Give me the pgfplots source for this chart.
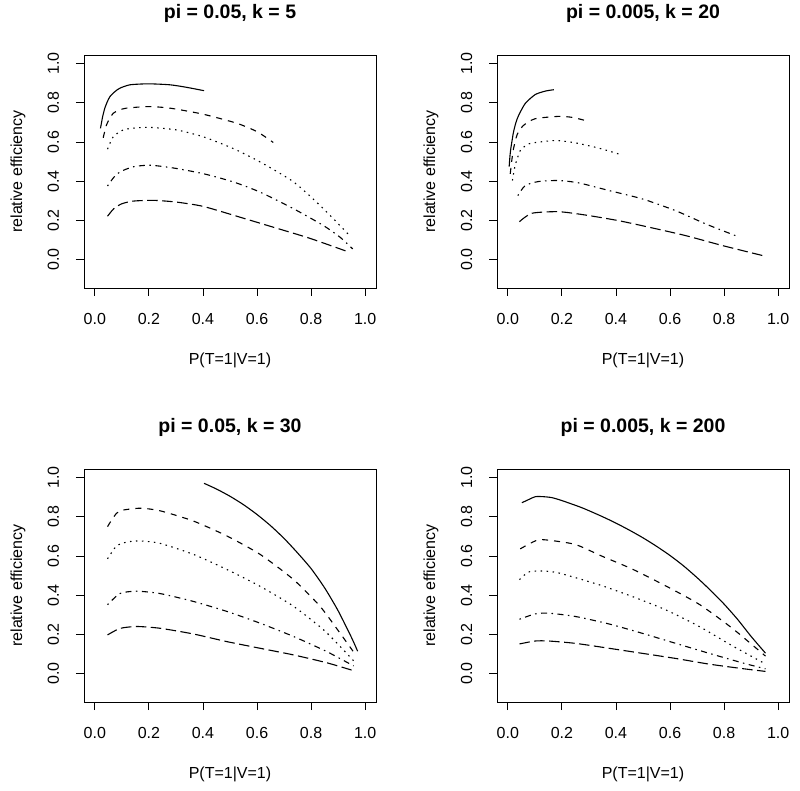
\documentclass[border=0pt]{standalone}
\usepackage{fontspec}
\setmainfont{Liberation Sans}
\usepackage{pgfplots}
\pgfplotsset{compat=1.18}
\pgfplotsset{
  rpanel/.style={
    anchor=south west, scale only axis, width=292pt, height=233pt,
    xmin=-0.04, xmax=1.04, ymin=-0.144, ymax=1.044,
    xtick={0,0.2,0.4,0.6,0.8,1.0}, ytick={0,0.2,0.4,0.6,0.8,1.0},
    /pgf/number format/.cd, fixed, fixed zerofill, precision=1, assume math mode=true, /pgfplots/.cd,
    tick align=outside, xtick pos=left, ytick pos=left,
    major tick length=8pt,
    tick style={black, line width=0.8pt},
    axis line style={black, line width=0.9pt},
    tick label style={font=\fontsize{16}{19}\selectfont},
    xticklabel style={anchor=north, inner sep=0pt},
    yticklabel style={rotate=90, anchor=base, inner sep=0pt},
    xticklabel shift=17pt, yticklabel shift=17pt,
    xlabel={P(T=1|V=1)}, ylabel={relative efficiency},
    every axis x label/.style={at={(axis description cs:0.5,-0.309)}, anchor=center, font=\fontsize{16}{19}\selectfont},
    every axis y label/.style={at={(axis description cs:-0.226,0.5)}, rotate=90, anchor=center, font=\fontsize{16}{19}\selectfont},
    title style={at={(axis description cs:0.5,1.133)}, anchor=base, font=\fontsize{19.5}{23}\selectfont\bfseries},
    every axis plot/.append style={black, line width=1.1pt, smooth, tension=0.4},
  },
  lsolid/.style={solid},
  ldash/.style={dash pattern=on 6pt off 6pt},
  ldot/.style={dash pattern=on 1.5pt off 4.5pt},
  ldotdash/.style={dash pattern=on 1.5pt off 4.5pt on 6pt off 4.5pt},
  llong/.style={dash pattern=on 10.5pt off 4.5pt},
}
\begin{document}
\fontsize{16}{19}\selectfont
\begin{tikzpicture}
\useasboundingbox (0pt,0pt) rectangle (800pt,790pt);
% Panel 1
\begin{axis}[rpanel, at={(84pt,502pt)}, title={pi = 0.05, k = 5}]
\addplot[lsolid] coordinates {(0.021,0.67)(0.029,0.73)(0.037,0.773)(0.046,0.805)(0.056,0.832)(0.075,0.858)(0.093,0.875)(0.13,0.892)(0.198,0.897)(0.278,0.892)(0.34,0.879)(0.404,0.862)};
\addplot[ldash] coordinates {(0.031,0.622)(0.043,0.687)(0.055,0.72)(0.068,0.747)(0.09,0.763)(0.117,0.773)(0.198,0.781)(0.278,0.773)(0.401,0.742)(0.525,0.696)(0.6,0.653)(0.66,0.598)};
\addplot[ldot] coordinates {(0.047,0.564)(0.068,0.627)(0.105,0.662)(0.15,0.672)(0.204,0.675)(0.302,0.662)(0.401,0.627)(0.512,0.567)(0.611,0.499)(0.735,0.397)(0.833,0.277)(0.907,0.174)(0.944,0.12)};
\addplot[ldotdash] coordinates {(0.047,0.376)(0.07,0.42)(0.093,0.448)(0.142,0.474)(0.204,0.482)(0.29,0.468)(0.401,0.439)(0.512,0.397)(0.611,0.345)(0.735,0.26)(0.846,0.174)(0.907,0.115)(0.954,0.055)};
\addplot[llong] coordinates {(0.047,0.222)(0.07,0.26)(0.099,0.285)(0.142,0.299)(0.216,0.303)(0.302,0.294)(0.401,0.272)(0.537,0.217)(0.66,0.166)(0.796,0.109)(0.942,0.038)};
\end{axis}
% Panel 2
\begin{axis}[rpanel, at={(497pt,502pt)}, title={pi = 0.005, k = 20}]
\addplot[lsolid] coordinates {(0.005,0.475)(0.008,0.53)(0.011,0.566)(0.016,0.61)(0.021,0.651)(0.03,0.7)(0.04,0.736)(0.064,0.796)(0.101,0.842)(0.139,0.86)(0.17,0.867)};
\addplot[ldash] coordinates {(0.009,0.438)(0.015,0.51)(0.021,0.566)(0.035,0.64)(0.058,0.685)(0.101,0.719)(0.188,0.731)(0.238,0.726)(0.287,0.71)};
\addplot[ldot] coordinates {(0.017,0.404)(0.027,0.48)(0.046,0.557)(0.07,0.585)(0.089,0.595)(0.176,0.608)(0.25,0.596)(0.337,0.569)(0.42,0.535)};
\addplot[ldotdash] coordinates {(0.037,0.327)(0.064,0.378)(0.114,0.399)(0.188,0.404)(0.262,0.392)(0.374,0.353)(0.498,0.31)(0.621,0.25)(0.733,0.182)(0.842,0.123)};
\addplot[llong] coordinates {(0.043,0.194)(0.089,0.237)(0.188,0.245)(0.287,0.228)(0.411,0.199)(0.535,0.162)(0.658,0.123)(0.795,0.072)(0.955,0.017)};
\end{axis}
% Panel 3
\begin{axis}[rpanel, at={(84pt,88pt)}, title={pi = 0.05, k = 30}]
\addplot[lsolid] coordinates {(0.404,0.971)(0.45,0.942)(0.5,0.905)(0.55,0.862)(0.6,0.812)(0.65,0.755)(0.7,0.69)(0.75,0.616)(0.8,0.536)(0.85,0.438)(0.9,0.321)(0.95,0.183)(0.972,0.115)};
\addplot[ldash] coordinates {(0.047,0.75)(0.07,0.8)(0.093,0.831)(0.167,0.844)(0.241,0.831)(0.364,0.779)(0.488,0.703)(0.611,0.609)(0.735,0.48)(0.833,0.344)(0.907,0.207)(0.955,0.115)};
\addplot[ldot] coordinates {(0.047,0.586)(0.08,0.651)(0.12,0.672)(0.167,0.677)(0.241,0.665)(0.364,0.609)(0.488,0.532)(0.611,0.446)(0.735,0.344)(0.846,0.224)(0.92,0.121)(0.957,0.066)};
\addplot[ldotdash] coordinates {(0.047,0.352)(0.093,0.409)(0.154,0.421)(0.241,0.409)(0.364,0.369)(0.488,0.318)(0.611,0.258)(0.735,0.19)(0.858,0.113)(0.957,0.04)};
\addplot[llong] coordinates {(0.047,0.198)(0.093,0.231)(0.154,0.241)(0.241,0.232)(0.364,0.203)(0.488,0.164)(0.611,0.13)(0.735,0.096)(0.858,0.056)(0.954,0.017)};
\end{axis}
% Panel 4
\begin{axis}[rpanel, at={(497pt,88pt)}, title={pi = 0.005, k = 200}]
\addplot[lsolid] coordinates {(0.052,0.872)(0.08,0.89)(0.102,0.903)(0.13,0.903)(0.163,0.898)(0.2,0.883)(0.275,0.846)(0.35,0.801)(0.4,0.768)(0.45,0.732)(0.5,0.693)(0.55,0.65)(0.6,0.603)(0.65,0.55)(0.7,0.49)(0.75,0.425)(0.8,0.355)(0.85,0.277)(0.9,0.19)(0.953,0.105)};
\addplot[ldash] coordinates {(0.046,0.637)(0.108,0.681)(0.151,0.681)(0.25,0.659)(0.349,0.599)(0.46,0.534)(0.584,0.448)(0.708,0.354)(0.831,0.231)(0.953,0.09)};
\addplot[ldot] coordinates {(0.043,0.48)(0.077,0.519)(0.126,0.524)(0.188,0.514)(0.337,0.454)(0.46,0.394)(0.584,0.326)(0.708,0.241)(0.831,0.142)(0.953,0.05)};
\addplot[ldotdash] coordinates {(0.043,0.278)(0.101,0.305)(0.151,0.309)(0.25,0.292)(0.374,0.254)(0.498,0.206)(0.621,0.155)(0.745,0.104)(0.869,0.055)(0.953,0.025)};
\addplot[llong] coordinates {(0.043,0.152)(0.101,0.167)(0.151,0.167)(0.25,0.155)(0.374,0.13)(0.498,0.104)(0.621,0.078)(0.745,0.049)(0.869,0.026)(0.953,0.012)};
\end{axis}
\end{tikzpicture}
\end{document}
